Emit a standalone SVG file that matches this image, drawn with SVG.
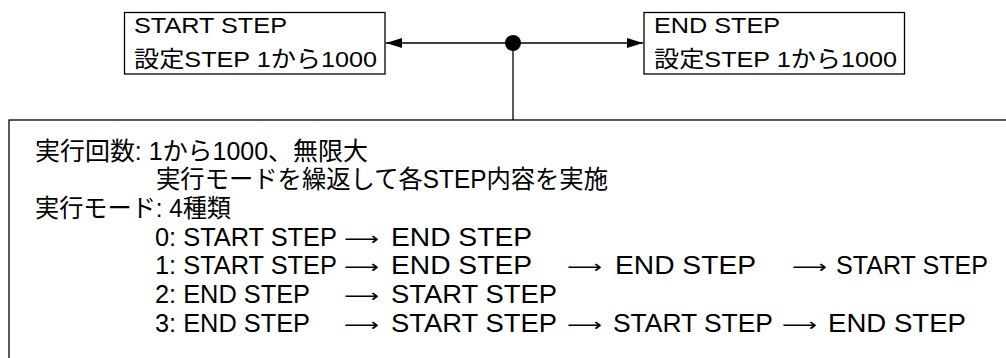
<svg xmlns="http://www.w3.org/2000/svg" width="1006" height="358" viewBox="0 0 1006 358">
<defs>
<style>
.box{fill:#fff;stroke:#000;stroke-width:1.3}
.t{font-family:"Liberation Sans","Noto Sans CJK JP",sans-serif;fill:#000}
.bt{font-size:22.5px}
.mt{font-size:25px}
.ar{font-family:"DejaVu Sans",sans-serif;font-size:18px;fill:#000}
.wire{stroke:#000;stroke-width:1.3;fill:none}
</style>
<marker id="ah" viewBox="0 0 16 10" refX="16" refY="5" markerWidth="16" markerHeight="10" markerUnits="userSpaceOnUse" orient="auto-start-reverse">
<path d="M0,0 L16,5 L0,10 Z" fill="#000"/>
</marker>
</defs>
<rect width="1006" height="358" fill="#fff"/>

<g id="connectors">
<line class="wire" x1="386" y1="43" x2="643" y2="43" marker-start="url(#ah)" marker-end="url(#ah)"/>
<line class="wire" x1="513" y1="43" x2="513" y2="120"/>
<circle cx="513" cy="43" r="8" fill="#000"/>
</g>

<g id="start-step">
<rect class="box" x="124.5" y="12.5" width="260.5" height="61.5"/>
<text class="t bt" x="134" y="32.5" textLength="153" lengthAdjust="spacingAndGlyphs">START STEP</text>
<text class="t bt" x="134" y="66.5" textLength="243" lengthAdjust="spacingAndGlyphs">設定STEP 1から1000</text>
</g>

<g id="end-step">
<rect class="box" x="644" y="12.5" width="260.5" height="61.5"/>
<text class="t bt" x="654" y="32.5" textLength="126" lengthAdjust="spacingAndGlyphs">END STEP</text>
<text class="t bt" x="654" y="66.5" textLength="243" lengthAdjust="spacingAndGlyphs">設定STEP 1から1000</text>
</g>

<g id="settings">
<rect class="box" x="9" y="120" width="1100" height="300"/>
<text class="t mt" x="35" y="159.5" textLength="333" lengthAdjust="spacingAndGlyphs">実行回数: 1から1000、無限大</text>
<text class="t mt" x="156" y="188.2" textLength="452" lengthAdjust="spacingAndGlyphs">実行モードを繰返して各STEP内容を実施</text>
<text class="t mt" x="35" y="216.9" textLength="196" lengthAdjust="spacingAndGlyphs">実行モード: 4種類</text>

<text class="t mt" x="155" y="245.6" textLength="182" lengthAdjust="spacingAndGlyphs">0: START STEP</text>
<text class="ar" x="344" y="244.6" textLength="35" lengthAdjust="spacingAndGlyphs">⟶</text>
<text class="t mt" x="391" y="245.6" textLength="141" lengthAdjust="spacingAndGlyphs">END STEP</text>

<text class="t mt" x="155" y="274.3" textLength="182" lengthAdjust="spacingAndGlyphs">1: START STEP</text>
<text class="ar" x="344" y="273.3" textLength="35" lengthAdjust="spacingAndGlyphs">⟶</text>
<text class="t mt" x="391" y="274.3" textLength="141" lengthAdjust="spacingAndGlyphs">END STEP</text>
<text class="ar" x="567" y="273.3" textLength="35" lengthAdjust="spacingAndGlyphs">⟶</text>
<text class="t mt" x="615" y="274.3" textLength="141" lengthAdjust="spacingAndGlyphs">END STEP</text>
<text class="ar" x="792" y="273.3" textLength="35" lengthAdjust="spacingAndGlyphs">⟶</text>
<text class="t mt" x="836" y="274.3" textLength="152" lengthAdjust="spacingAndGlyphs">START STEP</text>

<text class="t mt" x="155" y="303" textLength="155" lengthAdjust="spacingAndGlyphs">2: END STEP</text>
<text class="ar" x="344" y="302" textLength="35" lengthAdjust="spacingAndGlyphs">⟶</text>
<text class="t mt" x="391" y="303" textLength="166" lengthAdjust="spacingAndGlyphs">START STEP</text>

<text class="t mt" x="155" y="331.7" textLength="155" lengthAdjust="spacingAndGlyphs">3: END STEP</text>
<text class="ar" x="344" y="330.7" textLength="35" lengthAdjust="spacingAndGlyphs">⟶</text>
<text class="t mt" x="391" y="331.7" textLength="166" lengthAdjust="spacingAndGlyphs">START STEP</text>
<text class="ar" x="567" y="330.7" textLength="35" lengthAdjust="spacingAndGlyphs">⟶</text>
<text class="t mt" x="613" y="331.7" textLength="160" lengthAdjust="spacingAndGlyphs">START STEP</text>
<text class="ar" x="782" y="330.7" textLength="35" lengthAdjust="spacingAndGlyphs">⟶</text>
<text class="t mt" x="828" y="331.7" textLength="138" lengthAdjust="spacingAndGlyphs">END STEP</text>
</g>
</svg>
